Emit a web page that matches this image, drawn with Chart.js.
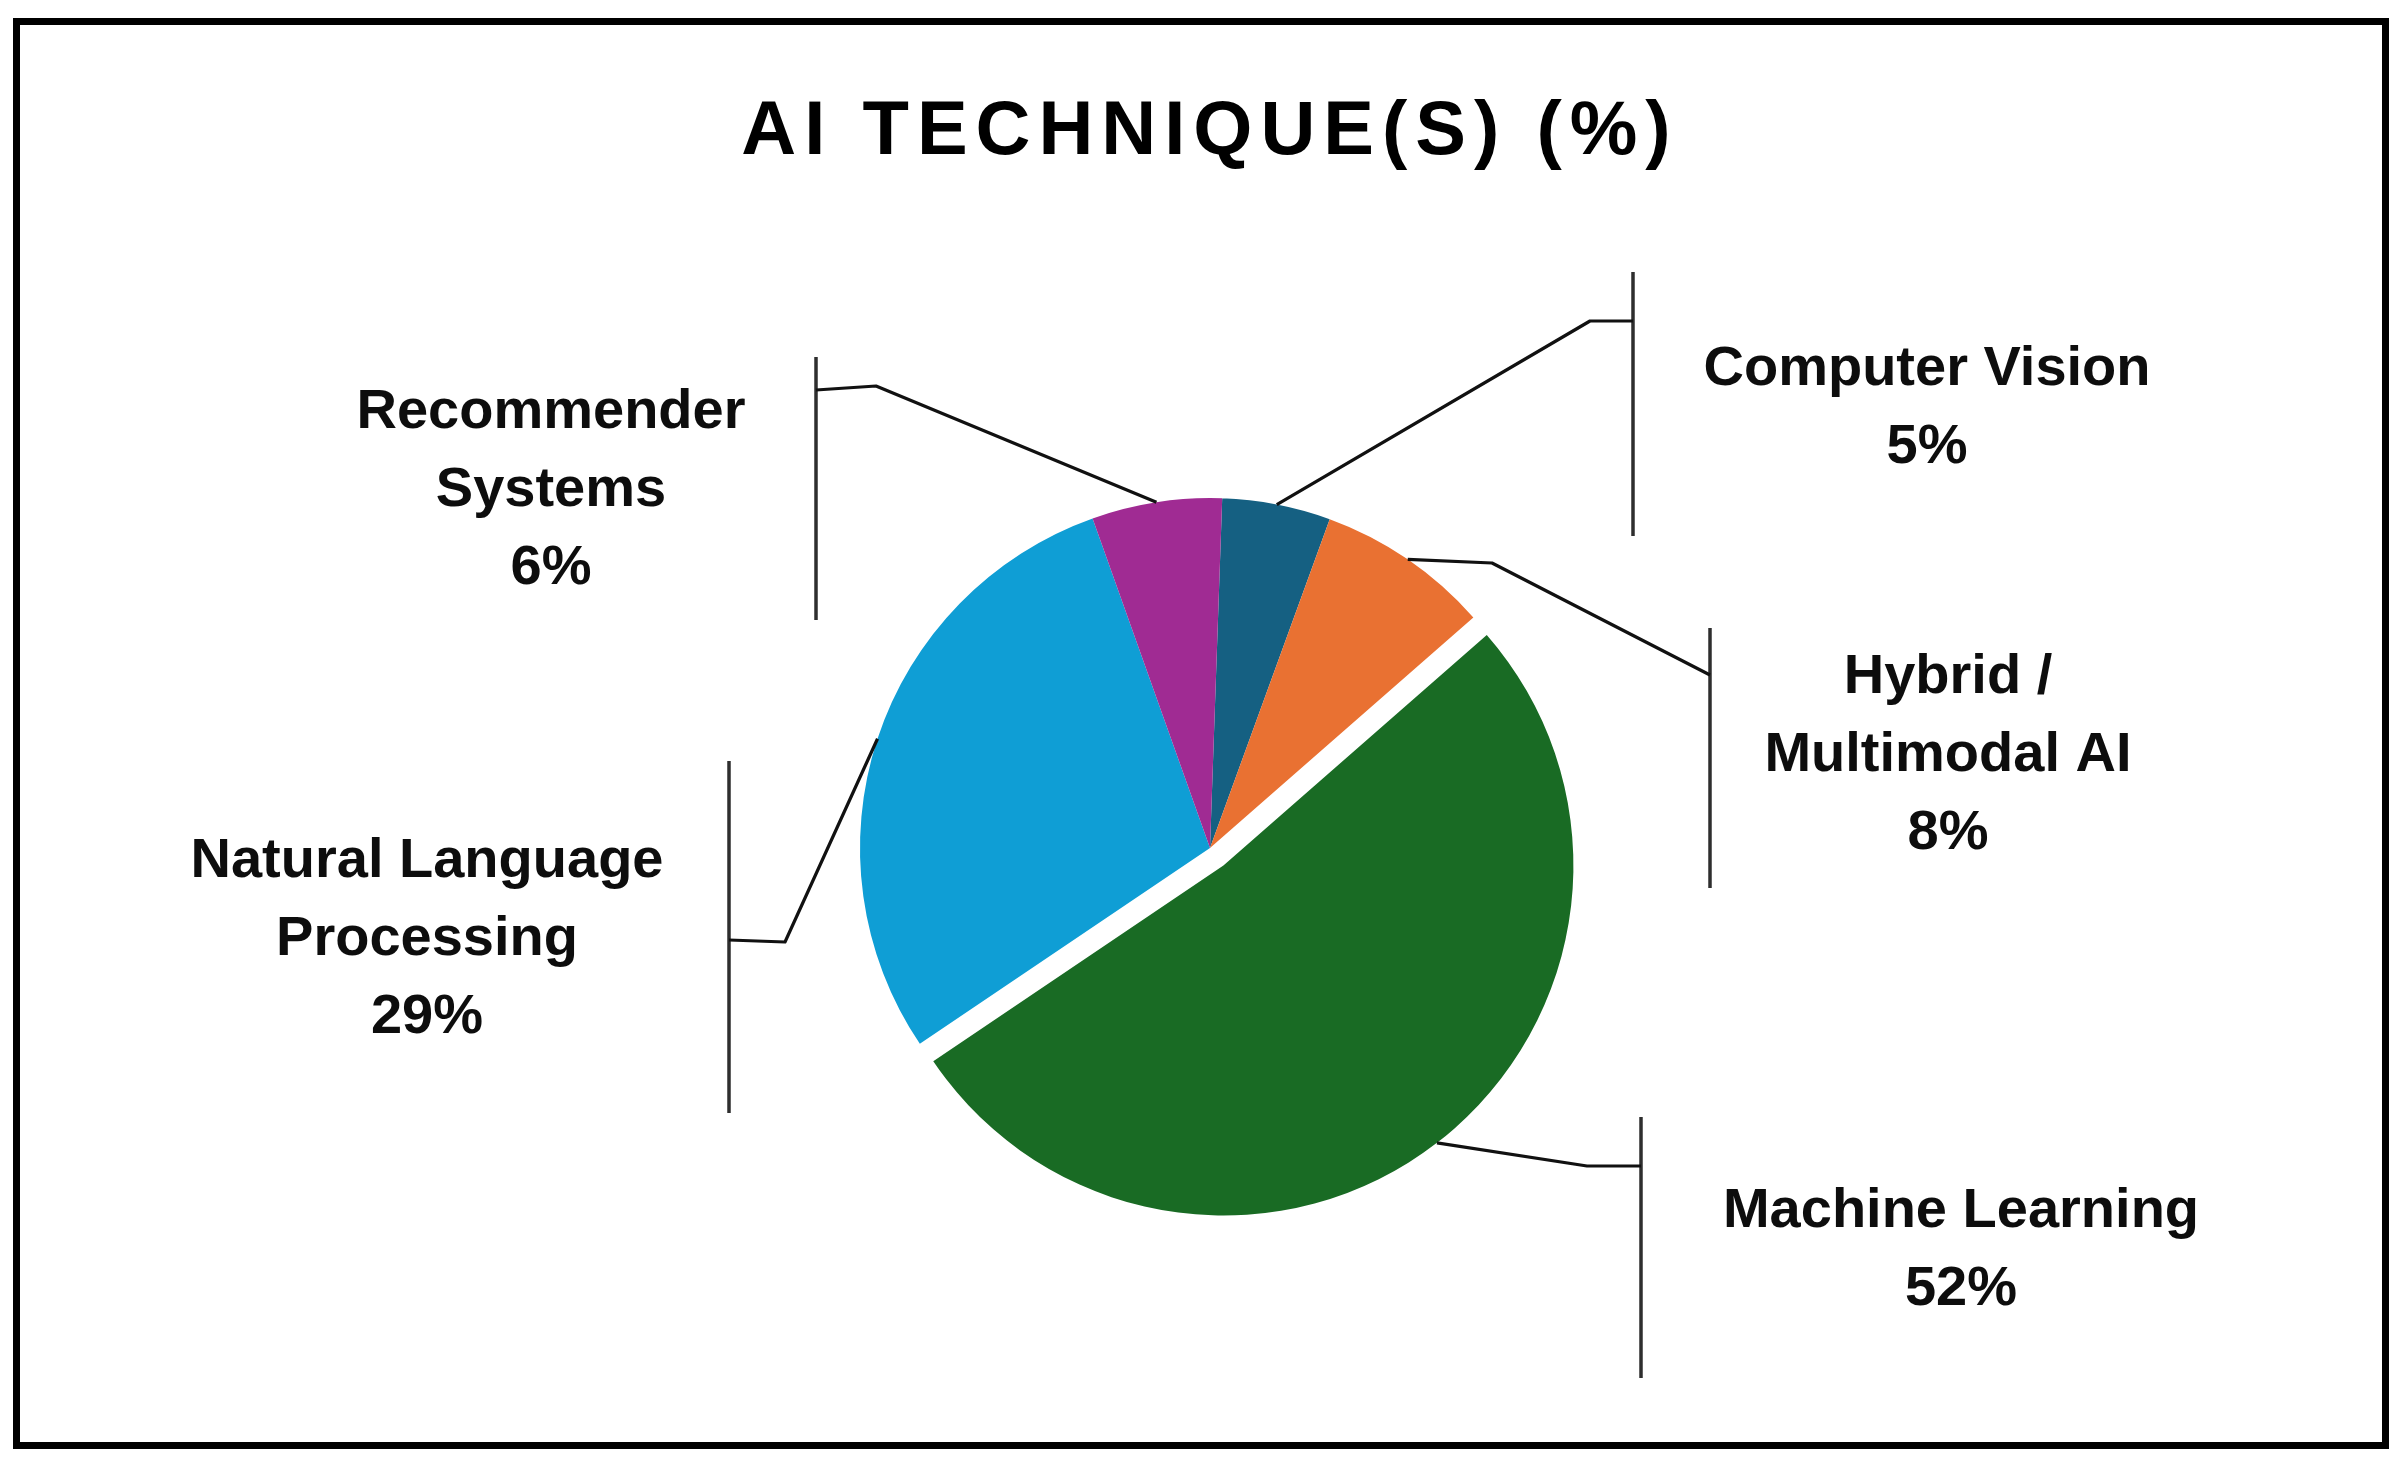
<!DOCTYPE html>
<html>
<head>
<meta charset="utf-8">
<script src="https://cdn.jsdelivr.net/npm/chart.js@4.4.1/dist/chart.umd.min.js"></script>
<style>
  html, body { margin: 0; padding: 0; background: #ffffff; }
  #wrap { position: relative; width: 2400px; height: 1462px; }
  #frame { position: absolute; left: 13px; top: 18px; width: 2362px; height: 1417px;
           border: 7px solid #000; pointer-events: none; box-sizing: content-box; }
</style>
</head>
<body>
<div id="wrap">
  <canvas id="c" width="2400" height="1462"></canvas>
  <div id="frame"></div>
</div>
<script>
// ---- data ----
const chartTitle = 'AI TECHNIQUE(S) (%)';
const categories = ['Computer Vision', 'Hybrid / Multimodal AI', 'Machine Learning', 'Natural Language Processing', 'Recommender Systems'];
const shares = [5, 8, 52, 29, 6];
const labelLines = [
  ['Computer Vision'],
  ['Hybrid /', 'Multimodal AI'],
  ['Machine Learning'],
  ['Natural Language', 'Processing'],
  ['Recommender', 'Systems']
];

// ---- style ----
const sliceColors = ['#156082', '#E97132', '#196B24', '#0F9ED5', '#A02B93'];
const explode = [0, 0, 22, 0, 0];
const labelFont = 'bold 56px "Liberation Sans", Arial, sans-serif';
const lineGap = 78;
// callout layout: label centre x, first line y, bracket x & span, leader elbow & join
const callouts = [
  { tx: 1927, ty: 370, bx: 1633, by0: 272, by1: 536, elbow: [1590, 321], join: [1633, 321] },
  { tx: 1948, ty: 678, bx: 1710, by0: 628, by1: 888, elbow: [1492, 563], join: [1710, 675] },
  { tx: 1961, ty: 1212, bx: 1641, by0: 1117, by1: 1378, elbow: [1587, 1166], join: [1641, 1166] },
  { tx: 427, ty: 862, bx: 729, by0: 761, by1: 1113, elbow: [785, 942], join: [729, 940] },
  { tx: 551, ty: 413, bx: 816, by0: 357, by1: 620, elbow: [876, 386], join: [816, 390] }
];

const titleSpacing = {
  id: 'titleSpacing',
  beforeDraw(chart) { chart.ctx.letterSpacing = '8px'; },
  beforeDatasetsDraw(chart) { chart.ctx.letterSpacing = '0px'; }
};

const explodePlugin = {
  id: 'explodePlugin',
  beforeDatasetDraw(chart, args) {
    const ctx = chart.ctx;
    args.meta.data.forEach((arc, i) => {
      const off = explode[i] || 0;
      const mid = (arc.startAngle + arc.endAngle) / 2;
      ctx.save();
      ctx.translate(Math.cos(mid) * off, Math.sin(mid) * off);
      arc.draw(ctx, chart.chartArea);
      ctx.restore();
    });
    return false;
  }
};

const calloutPlugin = {
  id: 'calloutPlugin',
  afterDraw(chart) {
    const ctx = chart.ctx;
    const meta = chart.getDatasetMeta(0);
    ctx.save();
    ctx.letterSpacing = '0px';
    meta.data.forEach((arc, i) => {
      const c = callouts[i];
      const mid = (arc.startAngle + arc.endAngle) / 2;
      const r = arc.outerRadius + (explode[i] || 0);
      const ax = arc.x + Math.cos(mid) * r;
      const ay = arc.y + Math.sin(mid) * r;
      // bracket
      ctx.strokeStyle = '#2e2e2e';
      ctx.lineWidth = 3.5;
      ctx.beginPath();
      ctx.moveTo(c.bx, c.by0);
      ctx.lineTo(c.bx, c.by1);
      ctx.stroke();
      // leader
      ctx.strokeStyle = '#111111';
      ctx.lineWidth = 3.2;
      ctx.lineJoin = 'round';
      ctx.beginPath();
      ctx.moveTo(ax, ay);
      ctx.lineTo(c.elbow[0], c.elbow[1]);
      ctx.lineTo(c.join[0], c.join[1]);
      ctx.stroke();
      // text
      const lines = labelLines[i].concat([shares[i] + '%']);
      ctx.fillStyle = '#0d0d0d';
      ctx.font = labelFont;
      ctx.textAlign = 'center';
      ctx.textBaseline = 'middle';
      lines.forEach((t, k) => ctx.fillText(t, c.tx, c.ty + k * lineGap));
    });
    ctx.restore();
  }
};

new Chart(document.getElementById('c'), {
  type: 'pie',
  data: {
    labels: categories,
    datasets: [{
      data: shares,
      backgroundColor: sliceColors,
      borderWidth: 0,
      hoverOffset: 0
    }]
  },
  options: {
    responsive: false,
    animation: false,
    devicePixelRatio: 1,
    events: [],
    rotation: 2,
    radius: 350,
    layout: { padding: { left: 20, right: 0, top: 0, bottom: 0 } },
    plugins: {
      legend: { display: false },
      tooltip: { enabled: false },
      title: {
        display: true,
        text: chartTitle,
        color: '#000000',
        font: { family: '"Liberation Sans", Arial, sans-serif', size: 76, weight: 'bold', lineHeight: 1.2 },
        padding: { top: 87, bottom: 56 }
      }
    }
  },
  plugins: [titleSpacing, explodePlugin, calloutPlugin]
});
</script>
</body>
</html>
